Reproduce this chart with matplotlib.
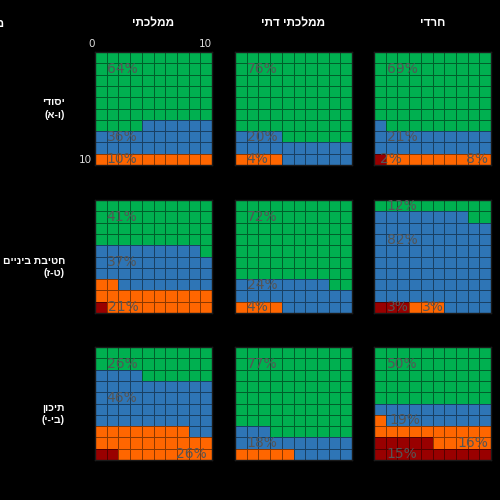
import numpy as np
import matplotlib.pyplot as plt
from matplotlib.colors import ListedColormap

# sectors (columns) and school levels (rows)
sectors = ['ממלכתי', 'ממלכתי דתי', 'חרדי']
levels = ['יסודי', 'חטיבת ביניים', 'תיכון']
grades = ['(א-ו)', '(ז-ט)', '(י-יב)']

# waffle grids, top row first. R=dark red, O=orange, B=blue, G=green
grid_mam_yesodi = ['GGGGGGGGGG'] * 6 + ['GGGGBBBBBB', 'BBBBBBBBBB', 'BBBBBBBBBB', 'OOOOOOOOOO']
grid_dati_yesodi = ['GGGGGGGGGG'] * 7 + ['BBBBGGGGGG', 'BBBBBBBBBB', 'OOOOBBBBBB']
grid_haredi_yesodi = ['GGGGGGGGGG'] * 6 + ['BGGGGGGGGG', 'BBBBBBBBBB', 'BBBBBBBBBB', 'ROOOOOOOOO']

grid_mam_chativa = ['GGGGGGGGGG'] * 4 + ['BBBBBBBBBG', 'BBBBBBBBBB', 'BBBBBBBBBB',
                                         'OOBBBBBBBB', 'OOOOOOOOOO', 'ROOOOOOOOO']
grid_dati_chativa = ['GGGGGGGGGG'] * 7 + ['BBBBBBBBGG', 'BBBBBBBBBB', 'OOOOBBBBBB']
grid_haredi_chativa = ['GGGGGGGGGG', 'BBBBBBBBGG'] + ['BBBBBBBBBB'] * 7 + ['RRROOOBBBB']

grid_mam_tichon = ['GGGGGGGGGG', 'GGGGGGGGGG', 'BBBBGGGGGG'] + ['BBBBBBBBBB'] * 4 + \
                  ['OOOOOOOOBB', 'OOOOOOOOOO', 'RROOOOOOOO']
grid_dati_tichon = ['GGGGGGGGGG'] * 7 + ['BBBGGGGGGG', 'BBBBBBBBBB', 'OOOOOBBBBB']
grid_haredi_tichon = ['GGGGGGGGGG'] * 5 + ['BBBBBBBBBB', 'OBBBBBBBBB', 'OOOOOOOOOO',
                                          'RRRRROOOOO', 'RRRRRRRRRR']

# percent labels per panel
pct_mam_yesodi = ['64%', '36%', '10%']
pct_dati_yesodi = ['76%', '20%', '4%']
pct_haredi_yesodi = ['69%', '21%', '2%', '8%']
pct_mam_chativa = ['41%', '37%', '21%']
pct_dati_chativa = ['72%', '24%', '4%']
pct_haredi_chativa = ['12%', '82%', '3%', '3%']
pct_mam_tichon = ['26%', '46%', '26%']
pct_dati_tichon = ['77%', '18%']
pct_haredi_tichon = ['50%', '19%', '16%', '15%']

grids = [[grid_mam_yesodi, grid_dati_yesodi, grid_haredi_yesodi],
         [grid_mam_chativa, grid_dati_chativa, grid_haredi_chativa],
         [grid_mam_tichon, grid_dati_tichon, grid_haredi_tichon]]
pcts = [[pct_mam_yesodi, pct_dati_yesodi, pct_haredi_yesodi],
        [pct_mam_chativa, pct_dati_chativa, pct_haredi_chativa],
        [pct_mam_tichon, pct_dati_tichon, pct_haredi_tichon]]

# layout: where each label sits (column, row) in cell units
label_xy = [[[(1, 1), (1, 7), (1, 9)],
             [(1, 1), (1, 7), (1, 9)],
             [(1.1, 1), (1.1, 7), (0.5, 9), (7.9, 9)]],
            [[(1, 1), (1, 5), (1.1, 9)],
             [(1, 1), (1, 7), (1, 9)],
             [(1.1, 0), (1.1, 3), (1.1, 9), (4.1, 9)]],
            [[(1, 1), (1, 4), (6.9, 9)],
             [(1, 1), (1, 8)],
             [(1.1, 1), (1.3, 6), (7.1, 8), (1.1, 9)]]]

codes = {'R': 0, 'O': 1, 'B': 2, 'G': 3}
cmap = ListedColormap(['#990000', '#FF6600', '#2E75B6', '#00B050'])
heb_font = ['Liberation Sans', 'DejaVu Sans']


def rtl(s):
    # matplotlib draws left to right, so flip Hebrew words
    return s[::-1]


W, H = 500, 500
fig = plt.figure(figsize=(5, 5), dpi=100, facecolor='black')

lefts = [95, 235, 374]
tops = [52, 200, 347]
pw, ph = 117, 113

for r in range(3):
    for c in range(3):
        ax = fig.add_axes([lefts[c] / W, 1 - (tops[r] + ph) / H, pw / W, ph / H])
        ax.set_facecolor('black')
        arr = np.array([[codes[ch] for ch in row] for row in grids[r][c]])
        ax.pcolormesh(np.arange(11), np.arange(11), arr, cmap=cmap, vmin=-0.5, vmax=3.5,
                      edgecolors=(0, 0, 0, 0.45), linewidth=0.7)
        ax.set_xlim(0, 10)
        ax.set_ylim(10, 0)
        for sp in ax.spines.values():
            sp.set_color('#1a1a1a')
            sp.set_linewidth(1)
        for txt, (x, y) in zip(pcts[r][c], label_xy[r][c]):
            ax.text(x, y + 0.5, txt, ha='left', va='center', fontsize=10, color='#555555')
        if r == 0 and c == 0:
            ax.xaxis.tick_top()
            ax.set_xticks([0, 10])
            ax.set_yticks([10])
            ax.tick_params(length=0, pad=2, colors='#dddddd', labelsize=7.5)
            for lbl in ax.get_xticklabels():
                lbl.set_ha('right')
            for lbl in ax.get_yticklabels():
                lbl.set_va('bottom')
        else:
            ax.set_xticks([])
            ax.set_yticks([])

# column titles
for c, name in enumerate(sectors):
    fig.text((lefts[c] + pw / 2) / W, 1 - 23 / H, rtl(name), ha='center', va='center',
             color='white', fontsize=8.5, fontweight='bold', family=heb_font)

# row titles
row_y = [(102, 115), (261, 273), (408, 420)]
for r, name in enumerate(levels):
    y1, y2 = row_y[r]
    fig.text(65 / W, 1 - y1 / H, rtl(name), ha='right', va='center',
             color='white', fontsize=7.5, fontweight='bold', family=heb_font)
    fig.text(65 / W, 1 - y2 / H, grades[r], ha='right', va='center',
             color='white', fontsize=7.5, fontweight='bold', family=heb_font)

# header clipped at the left edge
fig.text(5 / W, 1 - 24 / H, rtl('מגזר'), ha='right', va='center',
         color='white', fontsize=8.5, fontweight='bold', family=heb_font)

fig.savefig('out.png', dpi=100, facecolor='black')
